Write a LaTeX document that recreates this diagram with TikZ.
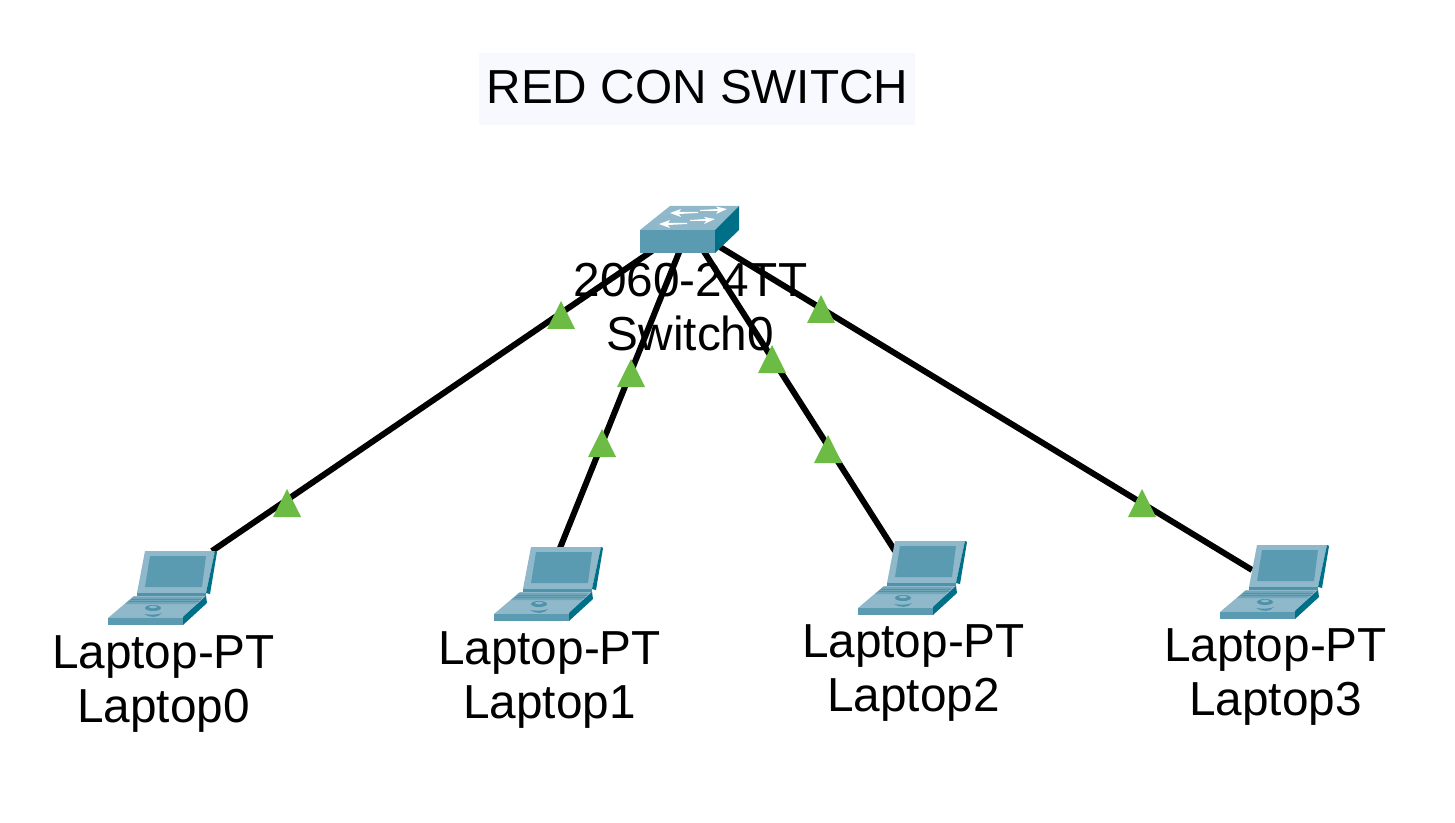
\documentclass[tikz,border=0pt]{standalone}
\usepackage{fontspec}
\setmainfont{Liberation Sans}
\definecolor{cA}{HTML}{5A9BB2}
\definecolor{cL}{HTML}{8FB9CA}
\definecolor{cD}{HTML}{006F88}
\definecolor{cM}{HTML}{4F93AB}
\definecolor{cK}{HTML}{6FA6B9}
\definecolor{cG}{HTML}{6CBB45}
\definecolor{cT}{HTML}{F8F9FF}
\tikzset{
 lbl/.style={font=\fontsize{35.8pt}{40.5pt}\selectfont,align=center,text=black,inner sep=0pt},
 link/.style={draw=black,line width=4.5pt},
 tri/.style={fill=cG,draw=none},
 devbox/.style={draw=none,fill=none,inner sep=0pt,outer sep=0pt},
}
\newcommand{\lapt}[3]{%
 \begin{scope}[shift={(#1,#2)}]
  \fill[cL] (145,551) -- (215,551) -- (206,593) -- (137,593) -- cycle;
  \fill[cD] (215,551) -- (217,552) -- (210,594) -- (206,593) -- cycle;
  \fill[cA] (150,556) -- (206,556) -- (202,587) -- (145,587) -- cycle;
  \fill[cM] (137,593) -- (206,593) -- (206,596) -- (137,596) -- cycle;
  \fill[cL] (134,596) -- (206,596) -- (206,597) -- (183,618) -- (108,618) -- cycle;
  \fill[cK] (133,597) -- (203,597) -- (195,604) -- (125,604) -- cycle;
  \draw[cM,line width=0.5pt] (131,599) -- (201,599) (128.5,601.5) -- (198.5,601.5);
  \fill[cM] (153,608) ellipse (8 and 3);
  \fill[cL] (153,607) ellipse (4 and 1.3);
  \fill[cM] (144,614) .. controls (150,618) and (158,618) .. (162,613) .. controls (158,615) and (150,615) .. (144,614) -- cycle;
  \fill[cA] (108,618) -- (183,618) -- (183,625) -- (108,625) -- cycle;
  \fill[cD] (183,617) -- (206,596) -- (207,603) -- (183,625) -- cycle;
  \node[devbox,minimum width=110,minimum height=74] (#3) at (163,588) {};
 \end{scope}}
\newcommand{\tr}[3]{\path[tri] (#1,#2) ++(-14,14) -- ++(28,0) -- ++(-14,-28) -- cycle; \node[devbox] (#3) at (#1,#2) {};}
\begin{document}
\begin{tikzpicture}[x=0.75pt,y=-0.75pt]
\useasboundingbox (0,0) rectangle (1455,823);
\fill[white] (0,0) rectangle (1455,823);
% title
\node[devbox,fill=cT,minimum width=327pt,minimum height=54pt] (titlebg) at (697,89) {};
\node[lbl] (title) at (697.5,87) {RED CON SWITCH};
% link end points
\coordinate (s0) at (652,251);
\coordinate (s1) at (680,250);
\coordinate (s2) at (703,250);
\coordinate (s3) at (720,247);
\coordinate (p0) at (212,551);
\coordinate (p1) at (560,548);
\coordinate (p2) at (895,551);
\coordinate (p3) at (1252,570);
\draw[link] (s0) -- (p0);
\draw[link] (s1) -- (p1);
\draw[link] (s2) -- (p2);
\draw[link] (s3) -- (p3);
% switch
\fill[cL] (640,230) -- (670,206) -- (739,206) -- (715,230) -- cycle;
\fill[cA] (640,230) rectangle (715,253);
\fill[cD] (715,230) -- (739,206) -- (739,230) -- (715,253) -- cycle;
\fill[white] (670,213) -- (681,209) -- (679,212) -- (698,212) -- (698,213) -- (679,214) -- (681,217) -- cycle;
\fill[white] (727,209) -- (716,206.5) -- (718,209) -- (700,210) -- (700,211) -- (718,211) -- (716,214) -- cycle;
\fill[white] (659,224) -- (670,220) -- (668,223) -- (687,223) -- (687,224) -- (668,225) -- (670,228) -- cycle;
\fill[white] (715,219) -- (704,217) -- (706,219) -- (690,220) -- (690,221) -- (706,221) -- (704,224) -- cycle;
\node[devbox,minimum width=74.25pt,minimum height=35.25pt] (sw) at (689.5,229.5) {};
% laptops
\lapt{0}{0}{lap0}
\lapt{386}{-4}{lap1}
\lapt{750}{-10}{lap2}
\lapt{1112}{-6}{lap3}
% triangles
\tr{561}{315}{t0a}
\tr{287}{503}{t0b}
\tr{631}{373}{t1a}
\tr{602}{443}{t1b}
\tr{772}{359}{t2a}
\tr{828}{449}{t2b}
\tr{821}{309}{t3a}
\tr{1142}{503}{t3b}
% labels
\node[lbl] (swl) at (690.5,307) {2060-24TT\\Switch0};
\node[lbl] (l0) at (163.5,684) {Laptop-PT\\Laptop0};
\node[lbl] (l1) at (549.5,680) {Laptop-PT\\Laptop1};
\node[lbl] (l2) at (913.5,673) {Laptop-PT\\Laptop2};
\node[lbl] (l3) at (1275.5,677) {Laptop-PT\\Laptop3};
\end{tikzpicture}
\end{document}
